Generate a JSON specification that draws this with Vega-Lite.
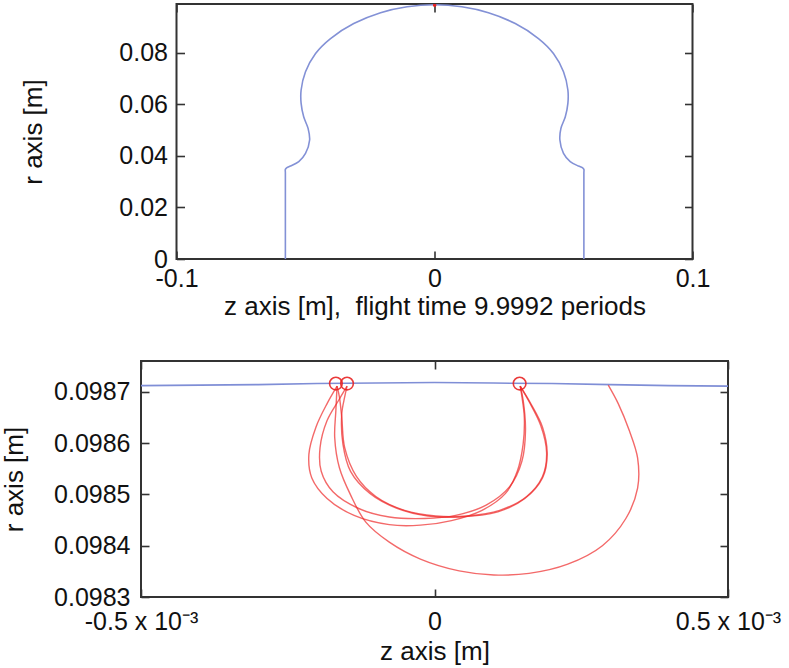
{
  "$schema": "https://vega.github.io/schema/vega-lite/v6.json",
  "background": "white",
  "padding": {"left": 0, "top": -1, "right": 2, "bottom": 0},
  "bounds": "flush",
  "center": true,
  "spacing": 102,
  "config": {
    "view": {"stroke": "#333333", "strokeWidth": 2},
    "font": "Liberation Sans",
    "axis": {
      "grid": false,
      "domain": false,
      "tickColor": "#333333",
      "tickWidth": 1.6,
      "tickSize": -8,
      "labelFont": "Liberation Sans",
      "labelFontSize": 25,
      "labelColor": "#111111",
      "titleFont": "Liberation Sans",
      "titleFontSize": 26,
      "titleFontWeight": "normal",
      "titleColor": "#111111",
      "labelFlush": false,
      "labelOverlap": false
    }
  },
  "datasets": {
    "surface": [
      {"i": 0, "z": -0.0578, "r": 0.0},
      {"i": 0.3, "z": -0.0578, "r": 0.001},
      {"i": 0.6, "z": -0.0578, "r": 0.0335},
      {"i": 1, "z": -0.0578, "r": 0.0348},
      {"i": 1.5, "z": -0.0572, "r": 0.0355},
      {"i": 2, "z": -0.0558, "r": 0.0361},
      {"i": 3, "z": -0.0526, "r": 0.0378},
      {"i": 4, "z": -0.05, "r": 0.041},
      {"i": 5, "z": -0.0484, "r": 0.0462},
      {"i": 6, "z": -0.049, "r": 0.0507},
      {"i": 7, "z": -0.0507, "r": 0.0552},
      {"i": 8, "z": -0.0517, "r": 0.0604},
      {"i": 9, "z": -0.0517, "r": 0.0656},
      {"i": 10, "z": -0.05, "r": 0.0727},
      {"i": 11, "z": -0.0461, "r": 0.0798},
      {"i": 12, "z": -0.0403, "r": 0.0856},
      {"i": 13, "z": -0.0313, "r": 0.0914},
      {"i": 14, "z": -0.0209, "r": 0.0956},
      {"i": 15, "z": -0.0106, "r": 0.0979},
      {"i": 16, "z": 0.0, "r": 0.0987},
      {"i": 17, "z": 0.0106, "r": 0.0979},
      {"i": 18, "z": 0.0209, "r": 0.0956},
      {"i": 19, "z": 0.0313, "r": 0.0914},
      {"i": 20, "z": 0.0403, "r": 0.0856},
      {"i": 21, "z": 0.0461, "r": 0.0798},
      {"i": 22, "z": 0.05, "r": 0.0727},
      {"i": 23, "z": 0.0517, "r": 0.0656},
      {"i": 24, "z": 0.0517, "r": 0.0604},
      {"i": 25, "z": 0.0507, "r": 0.0552},
      {"i": 26, "z": 0.049, "r": 0.0507},
      {"i": 27, "z": 0.0486, "r": 0.0462},
      {"i": 28, "z": 0.05, "r": 0.041},
      {"i": 29, "z": 0.0526, "r": 0.0378},
      {"i": 30, "z": 0.0558, "r": 0.0361},
      {"i": 30.5, "z": 0.0573, "r": 0.0355},
      {"i": 31, "z": 0.0579, "r": 0.0348},
      {"i": 31.4, "z": 0.0579, "r": 0.0335},
      {"i": 31.7, "z": 0.0579, "r": 0.001},
      {"i": 32, "z": 0.0579, "r": 0.0}
    ],
    "surfaceZoom": [
      {"z": -0.0005, "r": 0.098712},
      {"z": -0.0004, "r": 0.098713},
      {"z": -0.0003, "r": 0.098714},
      {"z": -0.0002, "r": 0.098716},
      {"z": -0.0001, "r": 0.098717},
      {"z": 0.0, "r": 0.098718},
      {"z": 0.0001, "r": 0.098717},
      {"z": 0.0002, "r": 0.098716},
      {"z": 0.0003, "r": 0.098714},
      {"z": 0.0004, "r": 0.098712},
      {"z": 0.0005, "r": 0.098711}
    ],
    "circles": [
      {"z": -0.000168, "r": 0.098716},
      {"z": -0.000149, "r": 0.098716},
      {"z": 0.000145, "r": 0.098716}
    ],
    "traj": [
      {"loop": 0, "i": 0, "z": 0.000296, "r": 0.098713},
      {"loop": 0, "i": 1, "z": 0.000313, "r": 0.098677},
      {"loop": 0, "i": 2, "z": 0.000332, "r": 0.098624},
      {"loop": 0, "i": 3, "z": 0.000346, "r": 0.098571},
      {"loop": 0, "i": 4, "z": 0.000346, "r": 0.098512},
      {"loop": 0, "i": 5, "z": 0.000326, "r": 0.098453},
      {"loop": 0, "i": 6, "z": 0.000286, "r": 0.0984},
      {"loop": 0, "i": 7, "z": 0.000227, "r": 0.098364},
      {"loop": 0, "i": 8, "z": 0.000161, "r": 0.098346},
      {"loop": 0, "i": 9, "z": 0.000101, "r": 0.098343},
      {"loop": 0, "i": 10, "z": 0.000042, "r": 0.098351},
      {"loop": 0, "i": 11, "z": -0.000024, "r": 0.098374},
      {"loop": 0, "i": 12, "z": -0.000077, "r": 0.098407},
      {"loop": 0, "i": 13, "z": -0.000117, "r": 0.098446},
      {"loop": 0, "i": 14, "z": -0.000143, "r": 0.098499},
      {"loop": 0, "i": 15, "z": -0.000162, "r": 0.098552},
      {"loop": 0, "i": 16, "z": -0.00017, "r": 0.098611},
      {"loop": 0, "i": 17, "z": -0.000168, "r": 0.098664},
      {"loop": 0, "i": 18, "z": -0.000166, "r": 0.098711},

      {"loop": 1, "i": 0, "z": -0.000166, "r": 0.098711},
      {"loop": 1, "i": 1, "z": -0.000183, "r": 0.098677},
      {"loop": 1, "i": 2, "z": -0.000202, "r": 0.098631},
      {"loop": 1, "i": 3, "z": -0.000214, "r": 0.098578},
      {"loop": 1, "i": 4, "z": -0.000209, "r": 0.098532},
      {"loop": 1, "i": 5, "z": -0.000183, "r": 0.098492},
      {"loop": 1, "i": 6, "z": -0.000137, "r": 0.098459},
      {"loop": 1, "i": 7, "z": -0.000077, "r": 0.098441},
      {"loop": 1, "i": 8, "z": -0.000024, "r": 0.09844},
      {"loop": 1, "i": 9, "z": 0.000029, "r": 0.098449},
      {"loop": 1, "i": 10, "z": 0.000081, "r": 0.098469},
      {"loop": 1, "i": 11, "z": 0.000121, "r": 0.098502},
      {"loop": 1, "i": 12, "z": 0.000141, "r": 0.098545},
      {"loop": 1, "i": 13, "z": 0.000151, "r": 0.098598},
      {"loop": 1, "i": 14, "z": 0.000153, "r": 0.09865},
      {"loop": 1, "i": 15, "z": 0.000149, "r": 0.09869},
      {"loop": 1, "i": 16, "z": 0.000146, "r": 0.098711},

      {"loop": 2, "i": 0, "z": 0.000146, "r": 0.098711},
      {"loop": 2, "i": 1, "z": 0.000164, "r": 0.098677},
      {"loop": 2, "i": 2, "z": 0.000184, "r": 0.098631},
      {"loop": 2, "i": 3, "z": 0.000192, "r": 0.098578},
      {"loop": 2, "i": 4, "z": 0.000184, "r": 0.098532},
      {"loop": 2, "i": 5, "z": 0.000154, "r": 0.098492},
      {"loop": 2, "i": 6, "z": 0.000108, "r": 0.098466},
      {"loop": 2, "i": 7, "z": 0.000042, "r": 0.098456},
      {"loop": 2, "i": 8, "z": -0.000011, "r": 0.098458},
      {"loop": 2, "i": 9, "z": -0.000064, "r": 0.098473},
      {"loop": 2, "i": 10, "z": -0.00011, "r": 0.098502},
      {"loop": 2, "i": 11, "z": -0.000143, "r": 0.098545},
      {"loop": 2, "i": 12, "z": -0.000156, "r": 0.098598},
      {"loop": 2, "i": 13, "z": -0.000158, "r": 0.098657},
      {"loop": 2, "i": 14, "z": -0.000153, "r": 0.09869},
      {"loop": 2, "i": 15, "z": -0.000149, "r": 0.098711},

      {"loop": 3, "i": 0, "z": -0.000149, "r": 0.098711},
      {"loop": 3, "i": 1, "z": -0.000163, "r": 0.098684},
      {"loop": 3, "i": 2, "z": -0.000183, "r": 0.098644},
      {"loop": 3, "i": 3, "z": -0.000195, "r": 0.098591},
      {"loop": 3, "i": 4, "z": -0.000193, "r": 0.098545},
      {"loop": 3, "i": 5, "z": -0.000173, "r": 0.098505},
      {"loop": 3, "i": 6, "z": -0.00013, "r": 0.098473},
      {"loop": 3, "i": 7, "z": -0.000077, "r": 0.098456},
      {"loop": 3, "i": 8, "z": -0.000017, "r": 0.098453},
      {"loop": 3, "i": 9, "z": 0.000036, "r": 0.098459},
      {"loop": 3, "i": 10, "z": 0.000088, "r": 0.098479},
      {"loop": 3, "i": 11, "z": 0.000128, "r": 0.098515},
      {"loop": 3, "i": 12, "z": 0.000149, "r": 0.098565},
      {"loop": 3, "i": 13, "z": 0.000155, "r": 0.098624},
      {"loop": 3, "i": 14, "z": 0.000151, "r": 0.098684},
      {"loop": 3, "i": 15, "z": 0.000146, "r": 0.098711},

      {"loop": 4, "i": 0, "z": 0.000146, "r": 0.098711},
      {"loop": 4, "i": 1, "z": 0.000161, "r": 0.098681},
      {"loop": 4, "i": 2, "z": 0.000181, "r": 0.098634},
      {"loop": 4, "i": 3, "z": 0.000191, "r": 0.098581},
      {"loop": 4, "i": 4, "z": 0.000184, "r": 0.098535},
      {"loop": 4, "i": 5, "z": 0.000157, "r": 0.098496},
      {"loop": 4, "i": 6, "z": 0.000111, "r": 0.098469},
      {"loop": 4, "i": 7, "z": 0.000055, "r": 0.098458},
      {"loop": 4, "i": 8, "z": 0.000002, "r": 0.098458},
      {"loop": 4, "i": 9, "z": -0.000051, "r": 0.098469},
      {"loop": 4, "i": 10, "z": -0.0001, "r": 0.098496},
      {"loop": 4, "i": 11, "z": -0.000133, "r": 0.098535},
      {"loop": 4, "i": 12, "z": -0.000153, "r": 0.098591},
      {"loop": 4, "i": 13, "z": -0.000158, "r": 0.09865},
      {"loop": 4, "i": 14, "z": -0.000162, "r": 0.09869},
      {"loop": 4, "i": 15, "z": -0.000166, "r": 0.098711}
    ]
  },
  "vconcat": [
    {
      "width": 516,
      "height": 255,
      "layer": [
        {
          "data": {"name": "surface"},
          "mark": {"type": "line", "color": "#8391d6", "strokeWidth": 1.6, "interpolate": "catmull-rom"},
          "encoding": {
            "x": {
              "field": "z", "type": "quantitative",
              "scale": {"domain": [-0.1, 0.1], "nice": false, "zero": false},
              "axis": {
                "orient": "bottom", "values": [-0.1, 0, 0.1],
                "labelExpr": "datum.value < 0 ? '-0.1' : (datum.value > 0 ? '0.1' : '0')",
                "labelPadding": 15,
                "title": "z axis [m],\u00a0 flight time 9.9992 periods",
                "titlePadding": 2
              }
            },
            "y": {
              "field": "r", "type": "quantitative",
              "scale": {"domain": [0, 0.099], "nice": false, "zero": false},
              "axis": {
                "orient": "left", "values": [0, 0.02, 0.04, 0.06, 0.08],
                "labelExpr": "datum.value == 0 ? '0' : format(datum.value, '.2f')",
                "labelPadding": 17,
                "title": "r axis [m]",
                "titlePadding": 72
              }
            },
            "order": {"field": "i", "type": "quantitative"}
          }
        },
        {
          "data": {"name": "traj"},
          "mark": {"type": "line", "color": "#e82020", "strokeWidth": 2},
          "encoding": {
            "x": {
              "field": "z", "type": "quantitative",
              "axis": {"orient": "top", "values": [-0.1, 0, 0.1], "labels": false, "title": null}
            },
            "y": {
              "field": "r", "type": "quantitative",
              "axis": {"orient": "right", "values": [0, 0.02, 0.04, 0.06, 0.08], "labels": false, "title": null}
            },
            "detail": {"field": "loop", "type": "nominal"},
            "order": {"field": "i", "type": "quantitative"}
          }
        }
      ],
      "resolve": {"axis": {"x": "independent", "y": "independent"}}
    },
    {
      "width": 587,
      "height": 236,
      "layer": [
        {
          "data": {"name": "surfaceZoom"},
          "mark": {"type": "line", "color": "#7f8ed6", "strokeWidth": 1.6},
          "encoding": {
            "x": {
              "field": "z", "type": "quantitative",
              "scale": {"domain": [-0.0005, 0.0005], "nice": false, "zero": false},
              "axis": {
                "orient": "bottom", "values": [-0.0005, 0, 0.0005],
                "labelExpr": "datum.value < 0 ? '-0.5 x 10⁻³' : (datum.value > 0 ? '0.5 x 10⁻³' : '0')",
                "labelPadding": 20,
                "title": "z axis [m]",
                "titlePadding": 4
              }
            },
            "y": {
              "field": "r", "type": "quantitative",
              "scale": {"domain": [0.0983, 0.09876], "nice": false, "zero": false},
              "axis": {
                "orient": "left", "values": [0.0983, 0.0984, 0.0985, 0.0986, 0.0987],
                "format": ".4f",
                "labelPadding": 19,
                "title": "r axis [m]",
                "titlePadding": 26
              }
            }
          }
        },
        {
          "data": {"name": "traj"},
          "mark": {"type": "line", "color": "#ee2a2a", "strokeWidth": 1.4, "opacity": 0.7, "interpolate": "catmull-rom"},
          "encoding": {
            "x": {
              "field": "z", "type": "quantitative",
              "axis": {"orient": "top", "values": [-0.0005, 0, 0.0005], "labels": false, "title": null}
            },
            "y": {
              "field": "r", "type": "quantitative",
              "axis": {"orient": "right", "values": [0.0983, 0.0984, 0.0985, 0.0986, 0.0987], "labels": false, "title": null}
            },
            "detail": {"field": "loop", "type": "nominal"},
            "order": {"field": "i", "type": "quantitative"}
          }
        },
        {
          "data": {"name": "circles"},
          "mark": {"type": "point", "shape": "circle", "filled": false, "color": "#e82525", "size": 160, "strokeWidth": 1.6, "opacity": 0.9},
          "encoding": {
            "x": {"field": "z", "type": "quantitative", "axis": null},
            "y": {"field": "r", "type": "quantitative", "axis": null}
          }
        }
      ],
      "resolve": {"axis": {"x": "independent", "y": "independent"}}
    }
  ]
}
